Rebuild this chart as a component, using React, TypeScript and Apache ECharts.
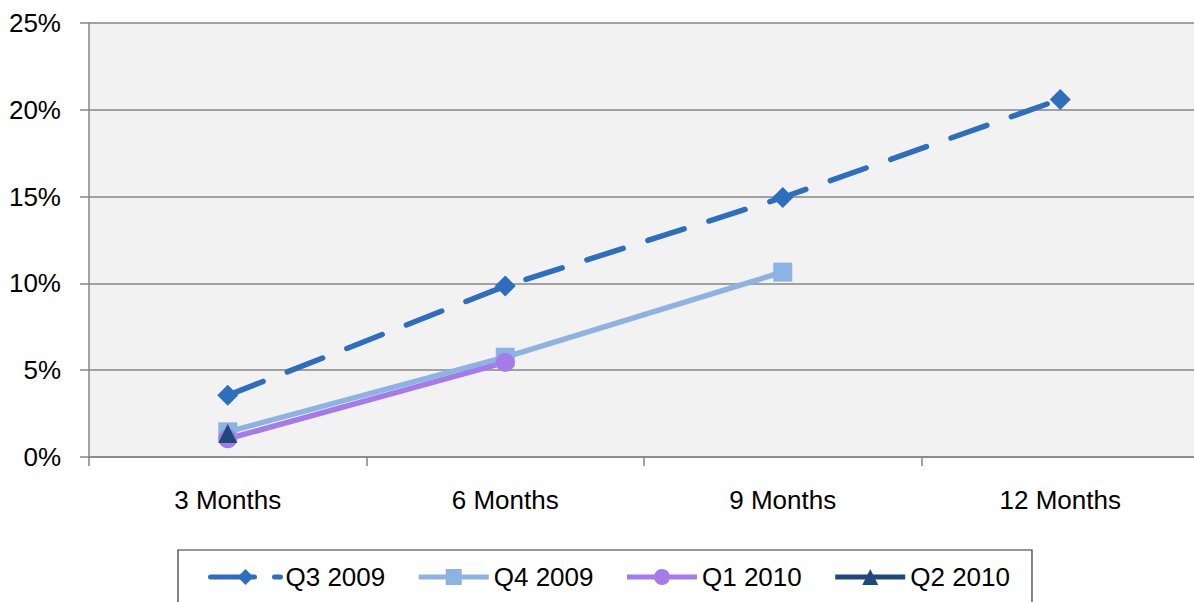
import React, { useEffect, useRef } from "react";
import * as echarts from "echarts";

const categories = ["3 Months", "6 Months", "9 Months", "12 Months"];
const q3_2009 = [3.55, 9.85, 14.95, 20.6];
const q4_2009 = [1.45, 5.75, 10.65, null];
const q1_2010 = [1.05, 5.45, null, null];
const q2_2010 = [1.35, null, null, null];
const seriesNames = ["Q3 2009", "Q4 2009", "Q1 2010", "Q2 2010"];

const FONT = "Liberation Sans";

export default function App() {
  const ref = useRef<HTMLDivElement>(null);
  useEffect(() => {
    if (!ref.current) return;
    const chart = echarts.init(ref.current, undefined, { renderer: "svg" });
    const gridColor = "#868686";
    chart.setOption({
      animation: false,
      backgroundColor: "#ffffff",
      textStyle: { fontFamily: FONT },
      grid: {
        left: 89,
        top: 23,
        width: 1110,
        height: 434,
        outerBoundsMode: "none",
        show: true,
        backgroundColor: "#F2F2F2",
        borderWidth: 0,
      },
      legend: {
        left: 178,
        top: 550,
        padding: [14, 22, 20, 30],
        borderColor: "#333333",
        borderWidth: 1.2,
        borderRadius: 0,
        itemWidth: 70,
        itemHeight: 20,
        itemGap: 31,
        textStyle: { fontSize: 26, color: "#000", fontFamily: FONT },
        data: [
          { name: seriesNames[0], lineStyle: { width: 5, type: [44, 20], cap: "round" } },
          { name: seriesNames[1], lineStyle: { width: 5 } },
          { name: seriesNames[2], lineStyle: { width: 5 } },
          { name: seriesNames[3], lineStyle: { width: 5 } },
        ],
      },
      xAxis: {
        type: "category",
        data: categories,
        boundaryGap: true,
        axisLine: { show: true, lineStyle: { color: gridColor, width: 1.5 } },
        axisTick: { show: true, length: 9, lineStyle: { color: gridColor, width: 1.5 } },
        axisLabel: { fontSize: 26, color: "#000", margin: 30, fontFamily: FONT },
      },
      yAxis: {
        type: "value",
        min: 0,
        max: 25,
        interval: 5,
        axisLine: { show: true, lineStyle: { color: gridColor, width: 1.5 } },
        axisTick: { show: true, length: 9, lineStyle: { color: gridColor, width: 1.5 } },
        axisLabel: { fontSize: 26, color: "#000", margin: 28, formatter: "{value}%", fontFamily: FONT },
        splitLine: { show: true, lineStyle: { color: gridColor, width: 1.5 } },
      },
      series: [
        {
          name: seriesNames[0],
          type: "line",
          data: q3_2009,
          symbol: "diamond",
          symbolSize: 21,
          itemStyle: { color: "#2E6EBE" },
          lineStyle: { color: "#2E6EBE", width: 5.5, type: [38, 26], cap: "round" },
        },
        {
          name: seriesNames[1],
          type: "line",
          data: q4_2009,
          symbol: "rect",
          symbolSize: 19,
          itemStyle: { color: "#8DB3E2" },
          lineStyle: { color: "#8DB3E2", width: 5.5 },
        },
        {
          name: seriesNames[2],
          type: "line",
          data: q1_2010,
          symbol: "circle",
          symbolSize: 19,
          itemStyle: { color: "#A57BEA" },
          lineStyle: { color: "#A57BEA", width: 5.5 },
        },
        {
          name: seriesNames[3],
          type: "line",
          data: q2_2010,
          symbol: "triangle",
          symbolSize: 19,
          itemStyle: { color: "#1F497D" },
          lineStyle: { color: "#1F497D", width: 5.5 },
        },
      ],
    });
    return () => chart.dispose();
  }, []);
  return (
    <div style={{ position: "fixed", left: 0, top: 0, width: 1194, height: 602, overflow: "hidden", background: "#fff" }}>
      <div ref={ref} style={{ width: 1200, height: 602 }} />
    </div>
  );
}
